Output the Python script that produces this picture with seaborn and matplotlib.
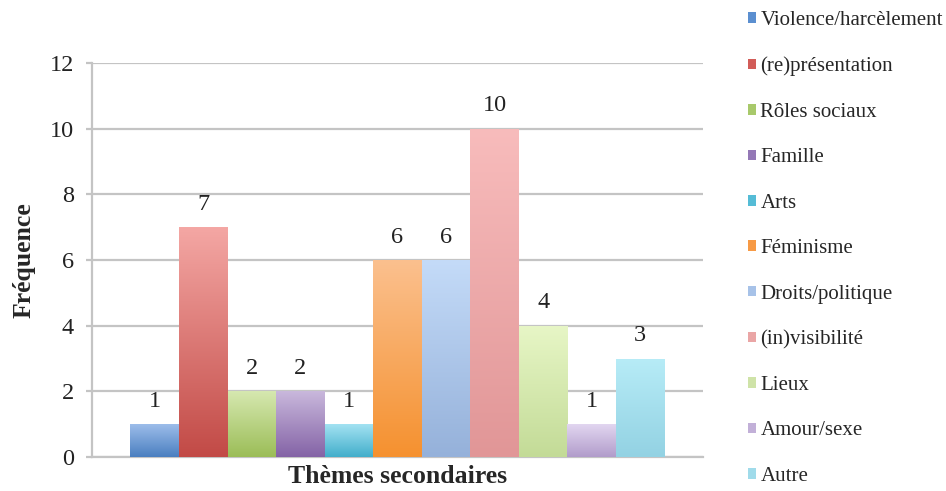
import numpy as np
import pandas as pd
import matplotlib
matplotlib.use("Agg")
import matplotlib.pyplot as plt
from matplotlib.colors import to_rgb
from matplotlib.patches import Patch
import seaborn as sns

# Secondary themes and their frequencies
themes = ["Violence/harcèlement", "(re)présentation", "Rôles sociaux", "Famille",
          "Arts", "Féminisme", "Droits/politique", "(in)visibilité", "Lieux",
          "Amour/sexe", "Autre"]
counts = [1, 7, 2, 2, 1, 6, 6, 10, 4, 1, 3]
group_label = "Thèmes secondaires"
y_ticks = [0, 2, 4, 6, 8, 10, 12]

# Gradient colours per bar: light top, darker bottom
top_colors = ["#9dbdea", "#f4a7a4", "#d6e8b0", "#c9b8dc", "#a3e2f2", "#fbc08e",
              "#c4dbf8", "#f8bcbc", "#e7f6c6", "#e2d6f0", "#b7ecf7"]
bottom_colors = ["#4a7fc0", "#c24a46", "#9bbd57", "#8463a6", "#42aecb", "#f5912f",
                 "#95b1da", "#e19697", "#c3db97", "#b19ccb", "#93d2e3"]
legend_colors = ["#5b8fd0", "#d25c58", "#a8c96b", "#9478b6", "#55bcd6", "#f79a45",
                 "#a7c2e8", "#eaa6a6", "#cfe3a8", "#c2b0d8", "#a0dbea"]

df = pd.DataFrame({"groupe": group_label, "theme": themes, "n": counts})

sns.set_style("white")
plt.rcParams["font.family"] = ["Liberation Serif", "DejaVu Serif"]

fig = plt.figure(figsize=(9.46, 4.91), dpi=100)
ax = fig.add_axes([92 / 946, 1 - 457 / 491, 611 / 946, 394 / 491])

sns.barplot(data=df, x="groupe", y="n", hue="theme", hue_order=themes,
            palette=bottom_colors, saturation=1, width=0.8, linewidth=0,
            legend=False, ax=ax, zorder=3)

# Vertical gradient fill clipped to each bar
bars = [c[0] for c in ax.containers]
for bar, top, bot, val in zip(bars, top_colors, bottom_colors, counts):
    x0, y0, w, h = bar.get_x(), bar.get_y(), bar.get_width(), bar.get_height()
    t = np.linspace(0, 1, 200)[:, None, None]
    img = (1 - t) * np.array(to_rgb(top)) + t * np.array(to_rgb(bot))
    img = np.repeat(img, 2, axis=1)
    im = ax.imshow(img, extent=[x0, x0 + w, y0, y0 + h], origin="upper",
                   aspect="auto", zorder=3, interpolation="bilinear")
    im.set_clip_path(bar)
    bar.set_facecolor("none")
    ax.annotate(str(val), (x0 + w / 2, y0 + h), xytext=(0, 9),
                textcoords="offset points", ha="center", va="bottom",
                fontsize=17.5, color="#222222")

half = 0.4 * 611 / 534
ax.set_xlim(-half, half)
ax.set_ylim(0, 12)
ax.set_yticks(y_ticks)
ax.set_xticks([])
ax.yaxis.grid(True, color="#c4c4c4", linewidth=1.6, zorder=0)
ax.set_axisbelow(True)
ax.tick_params(axis="y", which="major", left=True, length=4, width=1.6,
               color="#c4c4c4", pad=9, labelsize=17.5, labelcolor="#222222")
for side in ["top", "right"]:
    ax.spines[side].set_visible(False)
for side in ["left", "bottom"]:
    ax.spines[side].set_color("#c4c4c4")
    ax.spines[side].set_linewidth(1.6)

ax.set_xlabel(group_label, fontsize=18.5, fontweight="bold", labelpad=6)
ax.set_ylabel("Fréquence", fontsize=18.5, fontweight="bold", labelpad=10)

handles = [Patch(facecolor=c, edgecolor="none") for c in legend_colors]
fig.legend(handles, themes, loc="center left", bbox_to_anchor=(748 / 946, 0.494),
           frameon=False, fontsize=15, handlelength=0.4, handleheight=0.4,
           handletextpad=0.2, labelspacing=1.27, borderaxespad=0, borderpad=0)

fig.savefig("out.png", dpi=100)
